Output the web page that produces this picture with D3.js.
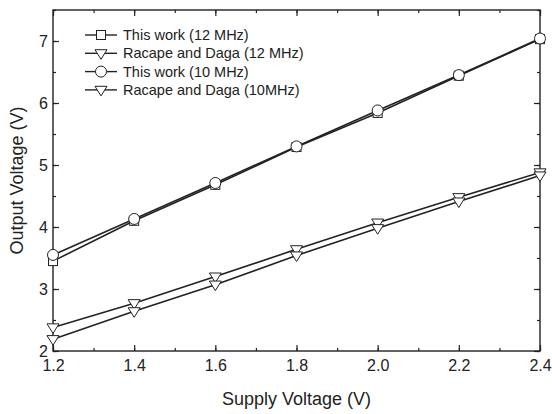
<!DOCTYPE html>
<html>
<head>
<meta charset="utf-8">
<script src="https://cdn.jsdelivr.net/npm/d3@7"></script>
<style>
  body { margin: 0; background: #fff; }
  svg { font-family: "Liberation Sans", Arial, sans-serif; }
</style>
</head>
<body>
<svg id="chart"></svg>
<script>
const width = 552;
const height = 414;
const margin = { top: 10, right: 12, bottom: 63, left: 53 };
const innerW = width - margin.left - margin.right;
const innerH = height - margin.top - margin.bottom;

// data
const supply = [1.2, 1.4, 1.6, 1.8, 2.0, 2.2, 2.4];
const thisWork12 = [3.45, 4.10, 4.68, 5.29, 5.84, 6.44, 7.03];
const racape12 = [2.38, 2.77, 3.20, 3.64, 4.07, 4.48, 4.88];
const thisWork10 = [3.55, 4.13, 4.71, 5.30, 5.88, 6.45, 7.04];
const racape10 = [2.19, 2.64, 3.07, 3.54, 3.98, 4.41, 4.83];

const xTicks = [1.2, 1.4, 1.6, 1.8, 2.0, 2.2, 2.4];
const yTicks = [2, 3, 4, 5, 6, 7];

const series = [
  { name: "This work (12 MHz)", values: thisWork12, marker: "square" },
  { name: "Racape and Daga (12 MHz)", values: racape12, marker: "triangle" },
  { name: "This work (10 MHz)", values: thisWork10, marker: "circle" },
  { name: "Racape and Daga (10MHz)", values: racape10, marker: "triangle" }
];

const svg = d3.select("#chart")
  .attr("width", width)
  .attr("height", height);

const g = svg.append("g")
  .attr("transform", "translate(" + margin.left + "," + margin.top + ")");

const xScale = d3.scaleLinear().domain([1.2, 2.4]).range([0, innerW]);
const yScale = d3.scaleLinear().domain([2, 7.5]).range([innerH, 0]);

const xMinor = d3.range(13).map(i => 1.2 + i * 0.1);
const yMinor = d3.range(12).map(i => 2 + i * 0.5);

function tickStyle(sel) {
  sel.select(".domain").remove();
  sel.selectAll("line").attr("stroke", "#222").attr("stroke-width", 1.2);
  sel.selectAll("text").attr("fill", "#222").style("font-size", "16px");
}

// bottom axis (inward ticks)
g.append("g")
  .attr("transform", "translate(0," + innerH + ")")
  .call(d3.axisBottom(xScale).tickValues(xMinor).tickSize(-3).tickFormat(""))
  .call(tickStyle);
g.append("g")
  .attr("transform", "translate(0," + innerH + ")")
  .call(d3.axisBottom(xScale).tickValues(xTicks).tickSize(-6).tickPadding(9).tickFormat(d3.format(".1f")))
  .call(tickStyle);

// top axis
g.append("g")
  .call(d3.axisTop(xScale).tickValues(xMinor).tickSize(-3).tickFormat(""))
  .call(tickStyle);
g.append("g")
  .call(d3.axisTop(xScale).tickValues(xTicks).tickSize(-6).tickFormat(""))
  .call(tickStyle);

// left axis
g.append("g")
  .call(d3.axisLeft(yScale).tickValues(yMinor).tickSize(-3).tickFormat(""))
  .call(tickStyle);
g.append("g")
  .call(d3.axisLeft(yScale).tickValues(yTicks).tickSize(-6).tickPadding(5).tickFormat(d3.format("d")))
  .call(tickStyle);

// right axis
g.append("g")
  .attr("transform", "translate(" + innerW + ",0)")
  .call(d3.axisRight(yScale).tickValues(yMinor).tickSize(-3).tickFormat(""))
  .call(tickStyle);
g.append("g")
  .attr("transform", "translate(" + innerW + ",0)")
  .call(d3.axisRight(yScale).tickValues(yTicks).tickSize(-6).tickFormat(""))
  .call(tickStyle);

// frame
g.append("rect")
  .attr("width", innerW)
  .attr("height", innerH)
  .attr("fill", "none")
  .attr("stroke", "#222")
  .attr("stroke-width", 1.4);

const line = d3.line()
  .x((d, i) => xScale(supply[i]))
  .y(d => yScale(d));

function drawMarker(sel, type, x, y) {
  if (type === "square") {
    sel.append("rect")
      .attr("x", x - 4.5).attr("y", y - 4.5)
      .attr("width", 9).attr("height", 9)
      .attr("fill", "#fff").attr("stroke", "#222").attr("stroke-width", 1);
  } else if (type === "circle") {
    sel.append("circle")
      .attr("cx", x).attr("cy", y).attr("r", 5.5)
      .attr("fill", "#fff").attr("stroke", "#222").attr("stroke-width", 1);
  } else {
    const s = 6;
    sel.append("path")
      .attr("d", "M" + (x - s) + "," + (y - s * 0.6) + "L" + (x + s) + "," + (y - s * 0.6) +
                 "L" + x + "," + (y + s * 1.0) + "Z")
      .attr("fill", "#fff").attr("stroke", "#222").attr("stroke-width", 1);
  }
}

const plot = g.append("g");

series.forEach(s => {
  plot.append("path")
    .datum(s.values)
    .attr("fill", "none")
    .attr("stroke", "#222")
    .attr("stroke-width", 1.6)
    .attr("d", line);
});

series.forEach(s => {
  const mg = plot.append("g");
  s.values.forEach((v, i) => drawMarker(mg, s.marker, xScale(supply[i]), yScale(v)));
});

// legend
const legend = svg.append("g");
series.forEach((s, i) => {
  const ly = 35 + i * 18.3;
  legend.append("line")
    .attr("x1", 85).attr("x2", 117)
    .attr("y1", ly).attr("y2", ly)
    .attr("stroke", "#222").attr("stroke-width", 1.4);
  drawMarker(legend, s.marker, 101, ly);
  legend.append("text")
    .attr("x", 123).attr("y", ly + 5)
    .attr("fill", "#222")
    .style("font-size", "14.5px")
    .text(s.name);
});

// axis titles
svg.append("text")
  .attr("x", margin.left + innerW / 2)
  .attr("y", 405)
  .attr("text-anchor", "middle")
  .attr("fill", "#222")
  .style("font-size", "18px")
  .text("Supply Voltage (V)");

svg.append("text")
  .attr("transform", "translate(23," + (margin.top + innerH / 2) + ") rotate(-90)")
  .attr("text-anchor", "middle")
  .attr("fill", "#222")
  .style("font-size", "18px")
  .text("Output Voltage (V)");
</script>
</body>
</html>
